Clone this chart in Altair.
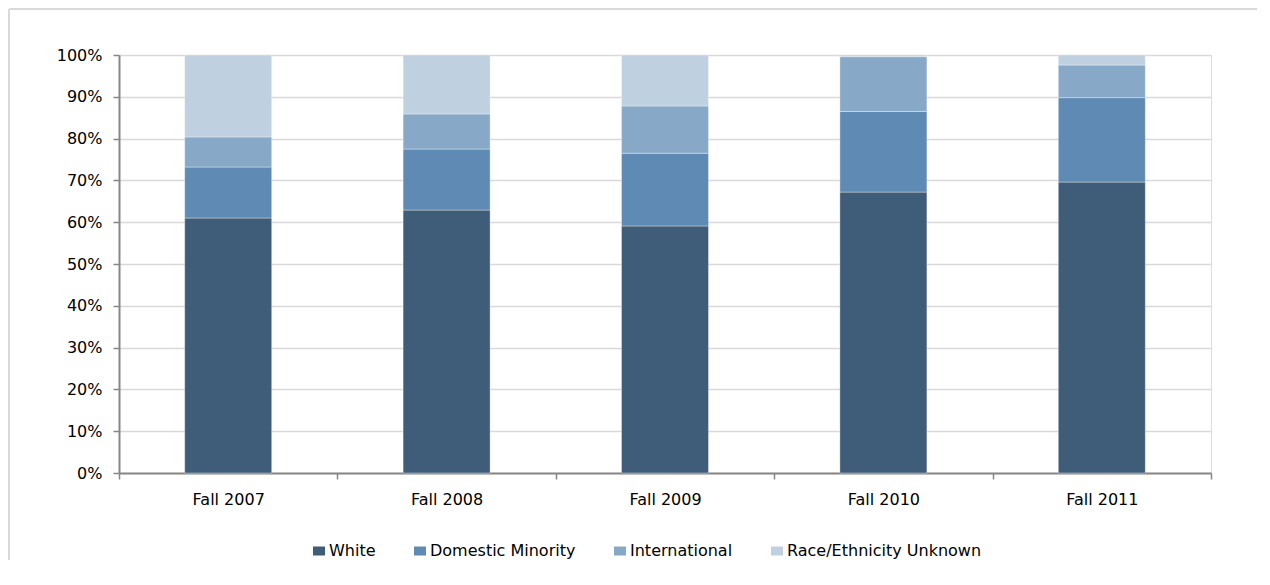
import altair as alt
import pandas as pd

years = ["Fall 2007", "Fall 2008", "Fall 2009", "Fall 2010", "Fall 2011"]
groups = ["White", "Domestic Minority", "International", "Race/Ethnicity Unknown"]
white = [61.0, 62.9, 59.1, 67.2, 69.6]
domestic = [12.2, 14.6, 17.4, 19.3, 20.2]
international = [7.2, 8.4, 11.3, 13.1, 7.8]
unknown = [19.6, 14.1, 12.2, 0.4, 2.4]
colors = ["#3F5D78", "#5F8AB4", "#87A8C7", "#BFD0E0"]
y_ticks = [i / 10 for i in range(11)]

rows = []
for gi, (g, vals) in enumerate(zip(groups, [white, domestic, international, unknown])):
    for y, v in zip(years, vals):
        rows.append({"year": y, "group": g, "value": v / 100, "idx": gi})
df = pd.DataFrame(rows)

W, H = 1092, 418
FONT = "DejaVu Sans"

bars = alt.Chart(df).mark_bar(size=87, stroke="white", strokeWidth=0.6, strokeOpacity=0.6).encode(
    x=alt.X("year:N", sort=years, title=None,
            scale=alt.Scale(paddingInner=0, paddingOuter=0),
            axis=alt.Axis(labelAngle=0, tickBand="extent", tickSize=6, labelPadding=12,
                          domainColor="#878787", domainWidth=2, tickColor="#878787",
                          tickWidth=1.5, labelFont=FONT, labelFontSize=16, labelColor="#000000",
                          grid=False)),
    y=alt.Y("value:Q", stack="zero", title=None,
            scale=alt.Scale(domain=[0, 1], nice=False),
            axis=alt.Axis(format=".0%", values=y_ticks, tickSize=6, labelPadding=11,
                          domainColor="#878787", domainWidth=2, tickColor="#878787",
                          tickWidth=1.5, gridColor="#D9D9D9", gridWidth=1.5,
                          labelFont=FONT, labelFontSize=16, labelColor="#000000")),
    color=alt.Color("group:N", sort=groups,
                    scale=alt.Scale(domain=groups, range=colors),
                    legend=alt.Legend(title=None, orient="none", legendX=192, legendY=488,
                                      direction="horizontal",
                                      symbolType="M-1,-0.75L1,-0.75L1,0.75L-1,0.75Z",
                                      symbolSize=144, symbolStrokeWidth=0, labelOffset=2,
                                      columnPadding=36, labelFont=FONT, labelFontSize=16,
                                      labelColor="#000000", labelLimit=400, padding=0)),
    order=alt.Order("idx:Q", sort="ascending"),
)

frame_left = alt.Chart(pd.DataFrame({"a": [0]})).mark_rule(color="#D9D9D9", strokeWidth=2).encode(
    x=alt.value(-110), y=alt.value(-46), y2=alt.value(505))
frame_top = alt.Chart(pd.DataFrame({"a": [0]})).mark_rule(color="#D9D9D9", strokeWidth=2).encode(
    x=alt.value(-110), x2=alt.value(1138), y=alt.value(-46))

chart = alt.layer(frame_left, frame_top, bars).properties(
    width=W, height=H, padding=0
).configure_view(stroke=None).configure(background="white")

chart.save("out.html", embed_options={"renderer": "svg", "actions": False})
